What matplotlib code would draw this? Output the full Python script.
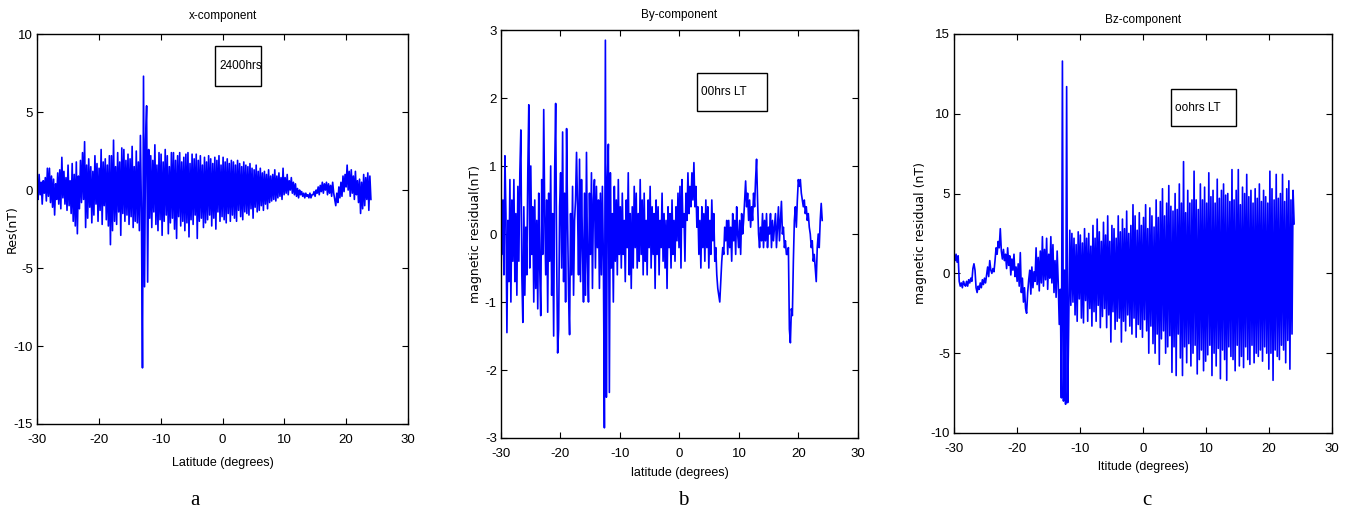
"""Three-panel magnetic residual plot (Bx, By, Bz) vs latitude at 00 LT."""

import matplotlib

matplotlib.use("Agg")
import matplotlib.pyplot as plt
import numpy as np
from matplotlib.patches import Rectangle

# residuals, 12 samples per 2 degrees from -30 to 24
res_x = [
    0.3, -0.6, 1.0, -0.3, 0.5, -0.9, 0.6, -0.2, 0.8, -0.7, 1.4, -0.4,
    1.4, -0.8, 0.9, -1.1, 0.7, -1.6, 0.4, -0.6, 1.1, -0.9, 1.3, -1.2,
    2.1, -0.5, 1.2, -0.9, 0.8, -1.3, 1.6, -1.0, 0.6, -1.5, 1.7, -2.0,
    1.0, -2.3, 1.8, -2.8, 0.9, -1.2, 1.9, -0.8, 2.4, -0.6, 3.1, -2.4,
    1.6, -1.8, 2.0, -1.1, 1.5, -2.1, 1.2, -1.6, 2.2, -0.9, 1.7, -2.0,
    1.4, -1.3, 2.6, -2.2, 1.8, -1.0, 2.0, -1.9, 1.6, -2.3, 2.2, -3.5,
    2.2, -2.6, 3.2, -2.0, 1.5, -2.2, 2.4, -1.4, 1.8, -2.9, 2.7, -1.5,
    2.6, -2.0, 1.9, -1.6, 2.3, -2.2, 2.0, -1.7, 2.8, -2.4, 1.5, -2.0,
    2.5, -2.1, 1.8, -2.6, 3.5, -1.5, -11.4, 7.3, -6.2, 3.2, 5.4, -5.9,
    2.6, -1.8, 2.2, -2.4, 1.9, -1.4, 2.9, -2.2, 1.6, -2.6, 2.4, -1.9,
    2.3, -2.9, 1.8, -2.0, 2.6, -1.6, 2.2, -2.8, 1.5, -2.1, 2.4, -1.8,
    2.4, -2.5, 1.9, -3.1, 2.2, -1.7, 2.4, -2.3, 1.8, -2.0, 2.1, -2.6,
    2.3, -2.1, 2.4, -3.0, 1.7, -1.9, 2.3, -2.2, 2.0, -1.6, 2.3, -3.1,
    1.9, -2.0, 2.2, -1.8, 1.6, -2.4, 2.1, -2.1, 1.8, -1.9, 2.2, -1.6,
    2.0, -2.3, 1.7, -1.8, 2.1, -2.5, 1.9, -1.4, 2.2, -2.0, 1.6, -1.7,
    2.1, -1.9, 1.8, -2.1, 2.0, -1.5, 1.7, -2.0, 1.9, -1.6, 1.8, -1.8,
    1.6, -2.0, 1.9, -1.3, 1.7, -1.7, 1.5, -1.9, 1.8, -1.4, 1.6, -1.5,
    1.5, -1.6, 1.7, -1.2, 1.4, -1.8, 1.3, -1.1, 1.6, -1.4, 1.2, -1.3,
    1.4, -1.0, 1.1, -1.3, 1.2, -0.9, 1.0, -1.2, 1.3, -0.8, 0.9, -0.7,
    1.0, -0.6, 1.3, -0.7, 0.9, -0.5, 1.1, -0.4, 0.8, -0.6, 1.4, -0.3,
    0.8, -0.2, 1.0, -0.3, 0.6, 0.0, 0.8, -0.2, 0.5, -0.3, 0.4, -0.4,
    0.1, -0.5, 0.0, -0.3, -0.1, -0.4, -0.2, -0.5, -0.2, -0.4, -0.3, -0.5,
    -0.2, -0.5, -0.3, -0.3, -0.1, -0.4, 0.0, -0.2, 0.2, -0.3, 0.3, -0.1,
    0.5, -0.2, 0.4, 0.0, 0.5, -0.3, 0.4, -0.2, 0.3, -0.4, 0.5, -0.2,
    -0.6, -1.0, -0.2, -0.8, 0.2, -0.5, 0.5, -0.4, 0.9, -0.1, 1.0, 0.2,
    1.6, 0.0, 1.2, -0.4, 1.3, -0.2, 0.9, -0.6, 1.2, -0.3, 0.6, -0.8,
    0.7, -1.5, 0.5, -1.2, 1.0, -1.0, 0.8, -0.6, 1.1, -1.3, 0.9, -0.6,
]

res_y = [
    0.8, -0.3, 0.5, -0.6, 1.15, 0.3, -1.45, 0.2, -0.7, 0.8, -1.0, 0.5,
    -0.4, 0.8, -0.7, 0.3, -0.9, 0.7, -0.4, 0.9, 1.53, -0.6, -1.3, 0.4,
    -0.9, 0.1, -0.6, 0.9, 1.9, -0.5, 1.0, -0.3, 0.4, -1.0, 0.5, -0.8,
    0.2, -1.1, 0.6, -0.5, -1.2, 0.8, -0.3, 1.83, 0.3, -0.6, 0.5, -1.15,
    0.6, -0.4, 1.0, -0.9, 0.3, -1.5, 0.9, 1.92, -0.3, -1.75, -1.4, 0.4,
    0.9, -0.5, 1.5, -0.7, 0.6, -1.0, 1.55, 0.2, -0.9, -1.48, 0.3, -0.6,
    0.7, -0.9, 0.2, 0.5, 1.2, 0.4, -0.6, 1.1, -0.7, 0.8, -0.2, -1.0,
    0.6, -0.9, 1.2, -0.4, -1.0, 0.6, -0.3, 0.9, -0.8, 0.5, 0.8, -0.5,
    0.7, -0.2, 0.5, -0.8, 0.6, -0.6, 0.7, -0.4, -2.85, 2.85, -2.4, 0.8,
    1.32, -2.33, 0.9, -0.5, 0.3, -1.0, 0.7, -0.4, 0.5, -0.6, 0.8, -0.3,
    0.4, -0.5, 0.6, -0.3, 0.2, -0.7, 0.5, -0.2, 0.9, -0.6, 0.3, -0.8,
    0.4, -0.5, 0.7, -0.2, 0.6, -0.5, 0.3, -0.4, 0.8, -0.3, 0.5, -0.6,
    0.6, -0.4, 0.2, -0.6, 0.5, -0.2, 0.7, -0.5, 0.4, -0.3, 0.3, -0.8,
    0.5, -0.3, 0.4, -0.6, 0.2, -0.2, 0.6, -0.4, 0.3, -0.5, 0.2, -0.8,
    0.4, -0.2, 0.3, -0.5, 0.5, -0.3, 0.2, -0.4, 0.4, -0.1, 0.6, -0.2,
    0.7, -0.5, 0.8, 0.1, 0.3, -0.4, 0.6, 0.2, 0.9, 0.3, 0.7, 0.4,
    0.9, 0.5, 1.05, 0.4, 0.7, 0.1, 0.4, -0.3, 0.2, -0.5, 0.4, -0.2,
    0.3, -0.4, 0.5, -0.2, 0.4, -0.5, 0.2, -0.3, 0.5, -0.1, 0.3, -0.4,
    -0.2, -0.6, -0.8, -0.9, -1.0, -0.7, -0.4, -0.2, -0.3, 0.1, -0.1, 0.2,
    -0.3, 0.2, -0.2, 0.1, -0.4, 0.3, -0.1, 0.2, -0.3, 0.4, 0.0, -0.2,
    0.2, -0.3, 0.3, 0.0, 0.2, 0.5, 0.78, 0.4, 0.6, 0.2, 0.5, 0.1,
    0.4, 0.2, 0.6, 0.4, 0.8, 1.1, 0.5, 0.0, -0.2, 0.1, -0.1, 0.3,
    -0.2, 0.2, -0.1, 0.3, -0.2, 0.1, 0.0, 0.3, -0.2, 0.2, -0.1, 0.1,
    0.3, -0.2, 0.1, 0.4, -0.1, 0.2, 0.48, 0.0, 0.1, -0.2, -0.1, -0.3,
    -0.3, -0.2, -1.4, -1.6, -1.1, -1.2, -0.4, 0.2, 0.4, 0.1, 0.5, 0.8,
    0.7, 0.8, 0.6, 0.5, 0.4, 0.5, 0.3, 0.4, 0.2, 0.3, 0.1, 0.0,
    -0.2, -0.1, -0.4, -0.3, -0.5, -0.7, -0.2, 0.0, -0.2, 0.2, 0.45, 0.2,
]

res_z = [
    1.0, 0.8, 1.2, 0.7, 1.1, -0.5, -0.8, -0.6, -0.9, -0.5, -0.7, -0.8,
    -0.5, -0.8, -0.4, -0.6, -0.3, -0.5, 0.3, 0.6, 0.2, -0.9, -1.2, -0.8,
    -1.0, -0.6, -0.9, -0.4, -0.7, -0.3, -0.6, -0.1, 0.4, -0.2, 0.8, 0.2,
    0.0, 0.3, 0.1, 0.8, 1.6, 1.2, 2.0, 1.6, 2.8, 1.4, 0.9, 1.5,
    0.8, 1.2, 0.3, 1.6, 0.5, 1.1, -0.1, 0.9, 0.2, 1.2, -0.2, 0.4,
    -0.5, 0.6, -0.8, 1.3, -1.2, -0.3, -1.8, -0.9, -2.2, -2.5, -1.2, -0.4,
    0.2, -1.3, 0.4, -0.9, 0.1, -0.5, 1.6, -0.7, 1.0, -1.1, 1.4, -0.6,
    2.3, -0.8, 1.5, -0.4, 2.2, -1.0, 1.2, -0.3, 2.3, -0.6, 1.8, -1.2,
    0.8, -1.5, 1.4, -0.6, -3.2, -1.0, -7.8, 13.3, -8.0, 0.2, -8.2, 11.7,
    -8.1, -3.0, 2.7, -2.0, 2.5, -1.8, 2.2, -2.6, 1.8, -3.0, 2.6, -1.6,
    2.4, -2.8, 1.9, -3.1, 2.8, -1.7, 2.2, -3.0, 2.5, -2.2, 1.7, -3.3,
    3.0, -2.4, 2.2, -3.0, 3.4, -2.0, 2.6, -3.4, 2.0, -2.7, 3.2, -2.2,
    2.4, -3.4, 3.6, -2.6, 2.0, -4.3, 3.0, -2.4, 2.8, -3.5, 2.2, -3.0,
    3.6, -2.8, 2.6, -4.3, 3.4, -3.0, 2.8, -3.6, 3.9, -2.6, 2.5, -3.3,
    3.0, -3.8, 4.3, -2.8, 3.6, -4.0, 2.7, -3.2, 3.8, -3.5, 3.0, -4.0,
    3.5, -2.9, 4.3, -3.6, 2.8, -5.0, 4.1, -3.3, 3.6, -4.4, 2.9, -5.0,
    4.6, -3.8, 3.5, -5.7, 4.5, -4.1, 5.3, -3.6, 3.6, -5.0, 4.4, -4.6,
    5.5, -3.9, 4.2, -6.2, 3.9, -4.6, 5.0, -6.4, 4.0, -3.8, 5.6, -5.3,
    4.4, -6.4, 7.0, -4.6, 3.8, -5.6, 5.2, -4.4, 4.4, -5.8, 4.6, -5.0,
    6.4, -4.5, 4.6, -6.3, 4.0, -5.4, 5.6, -4.8, 4.6, -6.1, 5.4, -5.5,
    4.4, -5.1, 6.3, -4.5, 4.8, -6.4, 5.2, -5.0, 4.4, -5.8, 5.9, -4.7,
    4.7, -6.6, 5.2, -4.8, 5.6, -5.4, 4.9, -6.7, 5.0, -4.6, 4.5, -5.2,
    6.5, -5.4, 4.6, -6.1, 5.2, -4.5, 6.5, -5.8, 4.3, -5.2, 5.4, -5.9,
    5.0, -4.6, 6.2, -5.4, 4.8, -5.7, 5.2, -4.5, 4.4, -5.6, 5.3, -5.0,
    4.7, -5.2, 5.6, -4.8, 4.5, -5.5, 5.2, -4.6, 4.8, -5.0, 4.4, -6.0,
    6.4, -5.0, 5.3, -6.7, 4.6, -4.8, 6.2, -5.2, 4.7, -5.4, 5.0, -4.5,
    6.2, -4.8, 4.5, -5.6, 5.3, -4.2, 5.8, -6.0, 4.6, -3.8, 5.2, 3.1,
]

LAT_START, LAT_END = -30, 24

panels = [
    dict(data=res_x, title="x-component", ylabel="Res(nT)", xlabel="Latitude (degrees)",
         ylim=(-15, 10), yticks=[-15, -10, -5, 0, 5, 10], note="2400hrs", letter="a",
         pos=[0.0275, 0.1735, 0.2754, 0.760], box=(0.48, 0.867, 0.124, 0.102),
         title_pad=11, xlabel_y=-0.085, ylabel_x=-0.05),
    dict(data=res_y, title="By-component", ylabel="magnetic residual(nT)",
         xlabel="latitude (degrees)", ylim=(-3, 3), yticks=[-3, -2, -1, 0, 1, 2, 3],
         note="00hrs LT", letter="b", pos=[0.3719, 0.1462, 0.2650, 0.7953],
         box=(0.549, 0.801, 0.196, 0.094), title_pad=9, xlabel_y=-0.071,
         ylabel_x=-0.052),
    dict(data=res_z, title="Bz-component", ylabel="magnetic residual (nT)",
         xlabel="ltitude (degrees)", ylim=(-10, 15), yticks=[-10, -5, 0, 5, 10, 15],
         note="oohrs LT", letter="c", pos=[0.7082, 0.156, 0.2806, 0.7778],
         box=(0.574, 0.769, 0.172, 0.093), title_pad=8, xlabel_y=-0.070,
         ylabel_x=-0.07),
]
letter_x = [195 / 1347, 683 / 1347, 1147 / 1347]

plt.rcParams["font.family"] = ["Liberation Sans Narrow", "Liberation Sans", "DejaVu Sans"]
plt.rcParams["axes.unicode_minus"] = False

fig = plt.figure(figsize=(13.47, 5.13), dpi=100)

for p, lx in zip(panels, letter_x):
    ax = fig.add_axes(p["pos"])
    vals = np.array(p["data"])
    lat = np.linspace(LAT_START, LAT_END, len(vals))
    ax.plot(lat, vals, color="#0000ff", linewidth=1.2)

    ax.set_xlim(-30, 30)
    ax.set_ylim(*p["ylim"])
    ax.set_xticks([-30, -20, -10, 0, 10, 20, 30])
    ax.set_yticks(p["yticks"])
    ax.tick_params(direction="in", top=True, right=True, length=4, width=0.8,
                   labelsize=9.5)
    ax.tick_params(axis="x", pad=7)
    ax.tick_params(axis="y", pad=3)
    for s in ax.spines.values():
        s.set_linewidth(1.0)

    ax.set_title(p["title"], fontsize=8.5, pad=p["title_pad"])
    ax.set_xlabel(p["xlabel"], fontsize=9)
    ax.xaxis.set_label_coords(0.5, p["xlabel_y"])
    ax.set_ylabel(p["ylabel"], fontsize=9, family="DejaVu Sans")
    ax.yaxis.set_label_coords(p["ylabel_x"], 0.5)

    bx, by, bw, bh = p["box"]
    ax.add_patch(Rectangle((bx, by), bw, bh, transform=ax.transAxes, fill=False,
                           edgecolor="black", linewidth=1.0))
    ax.text(bx + 0.012, by + bh / 2, p["note"], transform=ax.transAxes,
            fontsize=8.5, va="center", ha="left")

    fig.text(lx, 0.025, p["letter"], fontsize=15, family="Liberation Serif",
             ha="center", va="center")

fig.savefig("out.png", dpi=100)
